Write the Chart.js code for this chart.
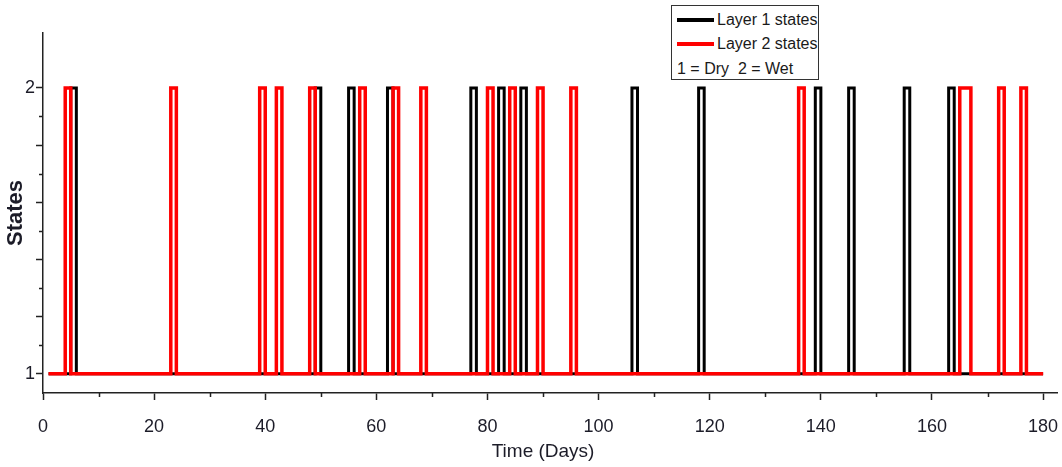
<!DOCTYPE html>
<html><head><meta charset="utf-8">
<script src="https://cdn.jsdelivr.net/npm/chart.js@4.4.1/dist/chart.umd.min.js"></script>
<style>
html,body{margin:0;padding:0;background:#fff;}
#wrap{position:relative;width:1062px;height:467px;}
#legend{position:absolute;left:671px;top:5px;width:148px;height:75px;border:1px solid #333;background:#fff;font-family:"Liberation Sans",Arial,sans-serif;font-size:16px;color:#1a1a1a;box-sizing:border-box;}
.row{position:absolute;left:0;height:22px;display:flex;align-items:center;white-space:pre;}
.sw{display:inline-block;width:37px;height:4px;margin-left:5px;margin-right:3px;}
</style></head>
<body><div id="wrap"><canvas id="c" width="1062" height="467"></canvas><div id="legend"></div></div>
<script>
// ---- data ----
const layer1Days   = [1, 5, 6, 49, 50, 55, 56, 62, 63, 77, 78, 82, 83, 86, 87, 106, 107, 118, 119, 139, 140, 145, 146, 155, 156, 163, 164, 180];
const layer1States = [1, 2, 1,  2,  1,  2,  1,  2,  1,  2,  1,  2,  1,  2,  1,   2,   1,   2,   1,   2,   1,   2,   1,   2,   1,   2,   1,   1];
const layer2Days   = [1, 4, 5, 23, 24, 39, 40, 42, 43, 48, 49, 57, 58, 63, 64, 68, 69, 80, 81, 84, 85, 89, 90, 95, 96, 136, 137, 165, 167, 172, 173, 176, 177, 180];
const layer2States = [1, 2, 1,  2,  1,  2,  1,  2,  1,  2,  1,  2,  1,  2,  1,  2,  1,  2,  1,  2,  1,  2,  1,  2,  1,   2,   1,   2,   1,   2,   1,   2,   1,   1];
const seriesLabels = ['Layer 1 states', 'Layer 2 states'];
const seriesColors = ['#000000', '#ff0000'];
const legendNote = '1 = Dry  2 = Wet';
const xMajorTicks = [0, 20, 40, 60, 80, 100, 120, 140, 160, 180];
const xMinorTicks = [10, 30, 50, 70, 90, 110, 130, 150, 170];
const yMajorTicks = [1, 1.2, 1.4, 1.6, 1.8, 2];
const yMinorTicks = [1.1, 1.3, 1.5, 1.7, 1.9];
const yLabeledTicks = [1, 2];
const xTitle = 'Time (Days)';
const yTitle = 'States';

const axisColor = '#222';
const textColor = '#1c1c28';
const FONT = '"Liberation Sans", Arial, sans-serif';

const toPts = (days, states) => days.map((d, i) => ({x: d, y: states[i]}));

const minorTicks = {
  id: 'minorTicks',
  afterDraw(chart) {
    const ctx = chart.ctx, xs = chart.scales.x, ys = chart.scales.y;
    ctx.save();
    ctx.strokeStyle = axisColor; ctx.lineWidth = 1.5;
    ctx.beginPath();
    xMinorTicks.forEach(v => { const p = Math.round(xs.getPixelForValue(v)) + 0.5; ctx.moveTo(p, xs.top); ctx.lineTo(p, xs.top + 4); });
    yMinorTicks.forEach(v => { const p = Math.round(ys.getPixelForValue(v)) + 0.5; ctx.moveTo(ys.right, p); ctx.lineTo(ys.right - 4, p); });
    ctx.stroke();
    // x-axis title, centred on the labelled tick span
    const x0 = xs.getPixelForValue(xMajorTicks[0]);
    const x1 = xs.getPixelForValue(xMajorTicks[xMajorTicks.length - 1]);
    ctx.fillStyle = textColor;
    ctx.font = '19px ' + FONT;
    ctx.textAlign = 'center'; ctx.textBaseline = 'middle';
    ctx.fillText(xTitle, (x0 + x1) / 2, 452);
    ctx.restore();
  }
};

new Chart(document.getElementById('c'), {
  type: 'line',
  data: {
    datasets: [
      {label: seriesLabels[0], data: toPts(layer1Days, layer1States), stepped: true, borderColor: seriesColors[0], backgroundColor: seriesColors[0], borderWidth: 3, pointRadius: 0, fill: false, order: 2, borderJoinStyle: 'miter'},
      {label: seriesLabels[1], data: toPts(layer2Days, layer2States), stepped: true, borderColor: seriesColors[1], backgroundColor: seriesColors[1], borderWidth: 3.5, pointRadius: 0, fill: false, order: 1, borderJoinStyle: 'miter'}
    ]
  },
  options: {
    responsive: false, animation: false, events: [],
    layout: {padding: {top: 33, right: 5, left: 0, bottom: 0}},
    plugins: {legend: {display: false}, tooltip: {enabled: false}},
    scales: {
      x: {
        type: 'linear', min: 0, max: 182.5,
        afterBuildTicks: s => { s.ticks = xMajorTicks.map(v => ({value: v})); },
        afterFit: s => { s.height = 74; s.paddingLeft = 0; s.paddingRight = 0; },
        grid: {drawOnChartArea: false, drawTicks: true, tickLength: 7, tickColor: axisColor, tickWidth: 1.5},
        border: {display: true, color: axisColor, width: 1.5},
        ticks: {padding: 16, color: textColor, font: {family: FONT, size: 18}, maxRotation: 0, autoSkip: false},
        title: {display: false}
      },
      y: {
        type: 'linear', min: 0.933, max: 2.192,
        afterBuildTicks: s => { s.ticks = yMajorTicks.map(v => ({value: v})); },
        afterFit: s => { s.width = 43; s.paddingTop = 0; s.paddingBottom = 0; },
        grid: {drawOnChartArea: false, drawTicks: true, tickLength: 7, tickColor: axisColor, tickWidth: 1.5},
        border: {display: true, color: axisColor, width: 1.5},
        ticks: {padding: 1, color: textColor, font: {family: FONT, size: 18}, autoSkip: false,
          callback: v => yLabeledTicks.some(t => Math.abs(t - v) < 1e-6) ? String(Math.round(v)) : ''},
        title: {display: true, text: yTitle, color: textColor, font: {family: FONT, size: 22, weight: 'bold'}, padding: {top: 3, bottom: 0}}
      }
    }
  },
  plugins: [minorTicks]
});

// legend (HTML overlay, real text)
const lg = document.getElementById('legend');
const rowTops = [3, 27, 52];
seriesLabels.forEach((lab, i) => {
  const r = document.createElement('div'); r.className = 'row'; r.style.top = rowTops[i] + 'px';
  const sw = document.createElement('span'); sw.className = 'sw'; sw.style.background = seriesColors[i];
  r.appendChild(sw); r.appendChild(document.createTextNode(lab)); lg.appendChild(r);
});
const note = document.createElement('div'); note.className = 'row'; note.style.top = rowTops[2] + 'px'; note.style.left = '5px';
note.textContent = legendNote; lg.appendChild(note);
</script>
</body></html>
